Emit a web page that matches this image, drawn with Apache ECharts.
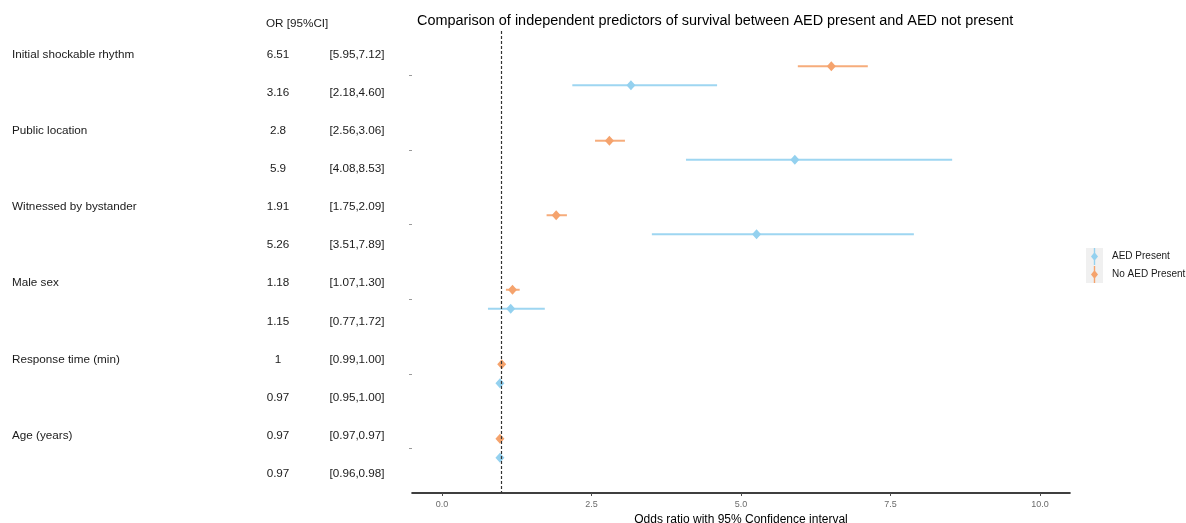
<!DOCTYPE html>
<html>
<head>
<meta charset="utf-8">
<script src="https://cdn.jsdelivr.net/npm/echarts@6/dist/echarts.min.js"></script>
<style>
html,body{margin:0;padding:0;background:#fff;}
#chart{width:1186px;height:523px;}
</style>
</head>
<body>
<div id="chart"></div>
<script>
// ---- data ----
var predictors = ['Initial shockable rhythm', 'Public location', 'Witnessed by bystander', 'Male sex', 'Response time (min)', 'Age (years)'];
var noAedOR   = [6.51, 2.8, 1.91, 1.18, 1, 0.97];
var noAedLow  = [5.95, 2.56, 1.75, 1.07, 0.99, 0.97];
var noAedHigh = [7.12, 3.06, 2.09, 1.30, 1.00, 0.97];
var aedOR     = [3.16, 5.9, 5.26, 1.15, 0.97, 0.97];
var aedLow    = [2.18, 4.08, 3.51, 0.77, 0.95, 0.96];
var aedHigh   = [4.60, 8.53, 7.89, 1.72, 1.00, 0.98];
var noAedORText = ['6.51', '2.8', '1.91', '1.18', '1', '0.97'];
var aedORText   = ['3.16', '5.9', '5.26', '1.15', '0.97', '0.97'];
var noAedCIText = ['[5.95,7.12]', '[2.56,3.06]', '[1.75,2.09]', '[1.07,1.30]', '[0.99,1.00]', '[0.97,0.97]'];
var aedCIText   = ['[2.18,4.60]', '[4.08,8.53]', '[3.51,7.89]', '[0.77,1.72]', '[0.95,1.00]', '[0.96,0.98]'];
var xTicks = [0, 2.5, 5, 7.5, 10];
var refLine = 1;

var BLUE = '#94D1EF', ORANGE = '#F5A36D';
var DODGE = 0.1275;

function ciData(lows, highs, sign) {
  return lows.map(function (l, i) { return [l, highs[i], i + 1 + sign * DODGE]; });
}
function ptData(vals, sign) {
  return vals.map(function (v, i) { return [v, i + 1 + sign * DODGE]; });
}
function ciRender(color) {
  return function (params, api) {
    var y = api.value(2);
    var a = api.coord([api.value(0), y]);
    var b = api.coord([api.value(1), y]);
    return {
      type: 'line',
      shape: { x1: a[0], y1: a[1], x2: b[0], y2: b[1] },
      style: { stroke: color, lineWidth: 2, opacity: 0.9 }
    };
  };
}

// table text
var graphics = [];
var FONT = '11.7px "Liberation Sans", Arial, sans-serif';
graphics.push({ type: 'text', left: 266, top: 18, style: { text: 'OR [95%CI]', font: FONT, fill: '#1a1a1a' } });
for (var i = 0; i < predictors.length; i++) {
  var y1 = 54.3 + (2 * i) * 38.15;
  var y2 = 54.3 + (2 * i + 1) * 38.15;
  graphics.push({ type: 'text', x: 12, y: y1, style: { text: predictors[i], font: FONT, fill: '#1a1a1a', verticalAlign: 'middle', align: 'left' } });
  graphics.push({ type: 'text', x: 278, y: y1, style: { text: noAedORText[i], font: FONT, fill: '#1a1a1a', verticalAlign: 'middle', align: 'center' } });
  graphics.push({ type: 'text', x: 357, y: y1, style: { text: noAedCIText[i], font: FONT, fill: '#1a1a1a', verticalAlign: 'middle', align: 'center' } });
  graphics.push({ type: 'text', x: 278, y: y2, style: { text: aedORText[i], font: FONT, fill: '#1a1a1a', verticalAlign: 'middle', align: 'center' } });
  graphics.push({ type: 'text', x: 357, y: y2, style: { text: aedCIText[i], font: FONT, fill: '#1a1a1a', verticalAlign: 'middle', align: 'center' } });
}
// legend key background
graphics.push({ type: 'rect', left: 1086, top: 248, shape: { width: 17, height: 35 }, style: { fill: '#F0F0F0' }, z: -1 });

var legendIcon = 'path://M2.8,0 L4.2,0 L4.2,5 L7,8.5 L4.2,12 L4.2,17 L2.8,17 L2.8,12 L0,8.5 L2.8,5 Z';

var chart = echarts.init(document.getElementById('chart'), null, { renderer: 'canvas' });
chart.setOption({
  animation: false,
  backgroundColor: '#ffffff',
  title: {
    text: 'Comparison of independent predictors of survival between AED present and AED not present',
    left: 412, top: 9,
    textStyle: { fontFamily: '"Liberation Sans", Arial, sans-serif', fontSize: 14.45, fontWeight: 'normal', color: '#000' }
  },
  graphic: graphics,
  legend: {
    orient: 'vertical',
    left: 1091, top: 248,
    itemWidth: 7, itemHeight: 17, itemGap: 1,
    padding: 0,
    textStyle: { fontFamily: '"Liberation Sans", Arial, sans-serif', fontSize: 10, color: '#1a1a1a', padding: [0, 0, 0, 9] },
    data: [
      { name: 'AED Present', icon: legendIcon, itemStyle: { color: BLUE } },
      { name: 'No AED Present', icon: legendIcon, itemStyle: { color: ORANGE } }
    ]
  },
  grid: { left: 412, right: 116, top: 31, bottom: 30, containLabel: false, outerBoundsMode: 'none' },
  xAxis: {
    type: 'value', min: -0.5, max: 10.5,
    name: 'Odds ratio with 95% Confidence interval',
    nameLocation: 'middle', nameGap: 20,
    nameTextStyle: { fontFamily: '"Liberation Sans", Arial, sans-serif', fontSize: 12, color: '#000' },
    axisLine: { show: true, onZero: false, lineStyle: { color: '#000', width: 1.6 } },
    axisTick: { show: true, length: 3, lineStyle: { color: '#4d4d4d' }, customValues: xTicks },
    axisLabel: { show: true, margin: 7, fontSize: 9, color: '#6b6b6b', fontFamily: '"Liberation Sans", Arial, sans-serif', customValues: xTicks, formatter: function (v) { return v.toFixed(1); } },
    splitLine: { show: false }
  },
  yAxis: {
    type: 'value', min: 0.4, max: 6.6, inverse: true,
    axisLine: { show: false, onZero: false },
    axisTick: { show: true, length: 3, inside: false, lineStyle: { color: '#9a9a9a' }, customValues: [1, 2, 3, 4, 5, 6] },
    axisLabel: { show: false },
    splitLine: { show: false }
  },
  series: [
    {
      name: 'AED Present', type: 'custom', renderItem: ciRender(BLUE),
      data: ciData(aedLow, aedHigh, 1), encode: { x: [0, 1], y: 2 }, z: 2,
      itemStyle: { color: BLUE }
    },
    {
      name: 'No AED Present', type: 'custom', renderItem: ciRender(ORANGE),
      data: ciData(noAedLow, noAedHigh, -1), encode: { x: [0, 1], y: 2 }, z: 2,
      itemStyle: { color: ORANGE }
    },
    {
      name: 'AED Present', type: 'scatter', symbol: 'diamond', symbolSize: [9, 10],
      data: ptData(aedOR, 1), itemStyle: { color: BLUE, opacity: 1 }, z: 3,
      markLine: {
        silent: true, symbol: 'none', label: { show: false },
        lineStyle: { type: [3, 2], color: '#333', width: 1.2 },
        data: [{ xAxis: refLine }]
      }
    },
    {
      name: 'No AED Present', type: 'scatter', symbol: 'diamond', symbolSize: [9, 10],
      data: ptData(noAedOR, -1), itemStyle: { color: ORANGE, opacity: 1 }, z: 3
    }
  ]
});
</script>
</body>
</html>
